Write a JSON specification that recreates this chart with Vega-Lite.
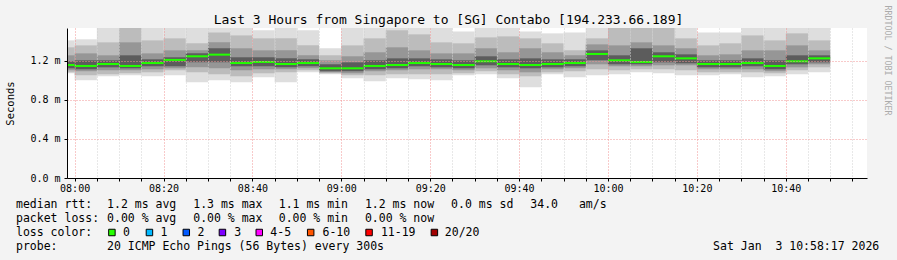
{
  "$schema": "https://vega.github.io/schema/vega-lite/v6.json",
  "width": 800,
  "height": 150,
  "autosize": {"type": "none"},
  "padding": {"left": 67, "top": 28, "right": 30, "bottom": 82},
  "background": "#f3f3f3",
  "config": {"view": {"fill": "white", "stroke": null}, "font": "DejaVu Sans Mono", "axis": {"labelOverlap": false}},
  "title": {
    "text": "Last 3 Hours from Singapore to [SG] Contabo [194.233.66.189]",
    "font": "DejaVu Sans Mono", "fontSize": 13, "fontWeight": "normal", "color": "black",
    "anchor": "middle", "dx": -18.5, "dy": 39, "offset": 4, "baseline": "bottom"
  },
  "layer": [
    {
      "data": {"values": [
        {"t":"2026-01-03T07:55:00Z","t2":"2026-01-03T08:00:00Z","mx":1.410,"u2":1.339,"u3":1.257,"u4":1.196,"med":1.158,"l4":1.124,"l3":1.104,"l2":1.083,"mn":1.073},
        {"t":"2026-01-03T08:00:00Z","t2":"2026-01-03T08:05:00Z","mx":1.421,"u2":1.359,"u3":1.277,"u4":1.206,"med":1.148,"l4":1.114,"l3":1.094,"l2":1.053,"mn":1.002},
        {"t":"2026-01-03T08:05:00Z","t2":"2026-01-03T08:10:00Z","mx":1.55,"u2":1.390,"u3":1.257,"u4":1.206,"med":1.168,"l4":1.134,"l3":1.104,"l2":1.063,"mn":1.042},
        {"t":"2026-01-03T08:10:00Z","t2":"2026-01-03T08:15:00Z","mx":1.55,"u2":1.55,"u3":1.390,"u4":1.257,"med":1.148,"l4":1.124,"l3":1.104,"l2":1.073,"mn":1.053},
        {"t":"2026-01-03T08:15:00Z","t2":"2026-01-03T08:20:00Z","mx":1.55,"u2":1.410,"u3":1.277,"u4":1.216,"med":1.178,"l4":1.145,"l3":1.114,"l2":1.083,"mn":1.042},
        {"t":"2026-01-03T08:20:00Z","t2":"2026-01-03T08:25:00Z","mx":1.55,"u2":1.431,"u3":1.308,"u4":1.237,"med":1.210,"l4":1.145,"l3":1.124,"l2":1.104,"mn":1.053},
        {"t":"2026-01-03T08:25:00Z","t2":"2026-01-03T08:30:00Z","mx":1.55,"u2":1.380,"u3":1.308,"u4":1.277,"med":1.247,"l4":1.185,"l3":1.134,"l2":1.083,"mn":0.981},
        {"t":"2026-01-03T08:30:00Z","t2":"2026-01-03T08:35:00Z","mx":1.55,"u2":1.492,"u3":1.390,"u4":1.329,"med":1.264,"l4":1.185,"l3":1.124,"l2":1.063,"mn":1.002},
        {"t":"2026-01-03T08:35:00Z","t2":"2026-01-03T08:40:00Z","mx":1.55,"u2":1.461,"u3":1.329,"u4":1.237,"med":1.178,"l4":1.145,"l3":1.104,"l2":1.042,"mn":0.981},
        {"t":"2026-01-03T08:40:00Z","t2":"2026-01-03T08:45:00Z","mx":1.513,"u2":1.431,"u3":1.308,"u4":1.237,"med":1.189,"l4":1.145,"l3":1.114,"l2":1.073,"mn":1.032},
        {"t":"2026-01-03T08:45:00Z","t2":"2026-01-03T08:50:00Z","mx":1.55,"u2":1.431,"u3":1.308,"u4":1.226,"med":1.168,"l4":1.134,"l3":1.114,"l2":1.083,"mn":0.981},
        {"t":"2026-01-03T08:50:00Z","t2":"2026-01-03T08:55:00Z","mx":1.513,"u2":1.359,"u3":1.257,"u4":1.216,"med":1.178,"l4":1.145,"l3":1.124,"l2":1.104,"mn":1.083},
        {"t":"2026-01-03T08:55:00Z","t2":"2026-01-03T09:00:00Z","mx":1.329,"u2":1.257,"u3":1.206,"u4":1.165,"med":1.124,"l4":1.094,"l3":1.083,"l2":1.073,"mn":1.063},
        {"t":"2026-01-03T09:00:00Z","t2":"2026-01-03T09:05:00Z","mx":1.55,"u2":1.359,"u3":1.247,"u4":1.185,"med":1.124,"l4":1.094,"l3":1.073,"l2":1.053,"mn":1.022},
        {"t":"2026-01-03T09:05:00Z","t2":"2026-01-03T09:10:00Z","mx":1.55,"u2":1.431,"u3":1.288,"u4":1.206,"med":1.148,"l4":1.114,"l3":1.094,"l2":1.053,"mn":0.991},
        {"t":"2026-01-03T09:10:00Z","t2":"2026-01-03T09:15:00Z","mx":1.55,"u2":1.513,"u3":1.339,"u4":1.226,"med":1.158,"l4":1.124,"l3":1.104,"l2":1.063,"mn":1.022},
        {"t":"2026-01-03T09:15:00Z","t2":"2026-01-03T09:20:00Z","mx":1.55,"u2":1.472,"u3":1.308,"u4":1.226,"med":1.178,"l4":1.145,"l3":1.114,"l2":1.063,"mn":1.012},
        {"t":"2026-01-03T09:20:00Z","t2":"2026-01-03T09:25:00Z","mx":1.55,"u2":1.390,"u3":1.277,"u4":1.216,"med":1.168,"l4":1.134,"l3":1.114,"l2":1.063,"mn":1.002},
        {"t":"2026-01-03T09:25:00Z","t2":"2026-01-03T09:30:00Z","mx":1.502,"u2":1.380,"u3":1.277,"u4":1.206,"med":1.158,"l4":1.124,"l3":1.104,"l2":1.073,"mn":1.053},
        {"t":"2026-01-03T09:30:00Z","t2":"2026-01-03T09:35:00Z","mx":1.55,"u2":1.441,"u3":1.329,"u4":1.247,"med":1.196,"l4":1.155,"l3":1.124,"l2":1.094,"mn":1.063},
        {"t":"2026-01-03T09:35:00Z","t2":"2026-01-03T09:40:00Z","mx":1.55,"u2":1.451,"u3":1.288,"u4":1.216,"med":1.168,"l4":1.134,"l3":1.104,"l2":1.063,"mn":1.022},
        {"t":"2026-01-03T09:40:00Z","t2":"2026-01-03T09:45:00Z","mx":1.502,"u2":1.431,"u3":1.329,"u4":1.226,"med":1.158,"l4":1.124,"l3":1.083,"l2":1.042,"mn":0.930},
        {"t":"2026-01-03T09:45:00Z","t2":"2026-01-03T09:50:00Z","mx":1.482,"u2":1.380,"u3":1.288,"u4":1.216,"med":1.168,"l4":1.134,"l3":1.114,"l2":1.083,"mn":1.063},
        {"t":"2026-01-03T09:50:00Z","t2":"2026-01-03T09:55:00Z","mx":1.492,"u2":1.308,"u3":1.257,"u4":1.216,"med":1.178,"l4":1.145,"l3":1.124,"l2":1.094,"mn":1.032},
        {"t":"2026-01-03T09:55:00Z","t2":"2026-01-03T10:00:00Z","mx":1.55,"u2":1.431,"u3":1.369,"u4":1.308,"med":1.271,"l4":1.206,"l3":1.165,"l2":1.114,"mn":1.053},
        {"t":"2026-01-03T10:00:00Z","t2":"2026-01-03T10:05:00Z","mx":1.55,"u2":1.55,"u3":1.359,"u4":1.257,"med":1.206,"l4":1.165,"l3":1.145,"l2":1.104,"mn":1.063},
        {"t":"2026-01-03T10:05:00Z","t2":"2026-01-03T10:10:00Z","mx":1.55,"u2":1.55,"u3":1.390,"u4":1.329,"med":1.189,"l4":1.165,"l3":1.145,"l2":1.114,"mn":1.083},
        {"t":"2026-01-03T10:10:00Z","t2":"2026-01-03T10:15:00Z","mx":1.55,"u2":1.55,"u3":1.359,"u4":1.288,"med":1.247,"l4":1.185,"l3":1.155,"l2":1.114,"mn":1.073},
        {"t":"2026-01-03T10:15:00Z","t2":"2026-01-03T10:20:00Z","mx":1.55,"u2":1.431,"u3":1.329,"u4":1.267,"med":1.226,"l4":1.175,"l3":1.155,"l2":1.104,"mn":1.053},
        {"t":"2026-01-03T10:20:00Z","t2":"2026-01-03T10:25:00Z","mx":1.492,"u2":1.359,"u3":1.257,"u4":1.206,"med":1.168,"l4":1.134,"l3":1.114,"l2":1.083,"mn":1.053},
        {"t":"2026-01-03T10:25:00Z","t2":"2026-01-03T10:30:00Z","mx":1.492,"u2":1.380,"u3":1.267,"u4":1.206,"med":1.168,"l4":1.134,"l3":1.114,"l2":1.083,"mn":1.063},
        {"t":"2026-01-03T10:30:00Z","t2":"2026-01-03T10:35:00Z","mx":1.55,"u2":1.461,"u3":1.308,"u4":1.226,"med":1.178,"l4":1.145,"l3":1.114,"l2":1.083,"mn":1.032},
        {"t":"2026-01-03T10:35:00Z","t2":"2026-01-03T10:40:00Z","mx":1.55,"u2":1.410,"u3":1.308,"u4":1.206,"med":1.148,"l4":1.114,"l3":1.094,"l2":1.073,"mn":1.042},
        {"t":"2026-01-03T10:40:00Z","t2":"2026-01-03T10:45:00Z","mx":1.55,"u2":1.482,"u3":1.359,"u4":1.257,"med":1.196,"l4":1.165,"l3":1.134,"l2":1.104,"mn":1.063},
        {"t":"2026-01-03T10:45:00Z","t2":"2026-01-03T10:50:00Z","mx":1.55,"u2":1.410,"u3":1.308,"u4":1.257,"med":1.226,"l4":1.185,"l3":1.165,"l2":1.134,"mn":1.083}
      ]},
      "encoding": {
        "x": {
          "field": "t", "type": "temporal",
          "scale": {"type": "utc", "domain": [1767427097000, 1767437897000]},
          "axis": {
            "title": null, "zindex": 1,
            "values": [1767427200000,1767427500000,1767427800000,1767428100000,1767428400000,1767428700000,1767429000000,1767429300000,1767429600000,1767429900000,1767430200000,1767430500000,1767430800000,1767431100000,1767431400000,1767431700000,1767432000000,1767432300000,1767432600000,1767432900000,1767433200000,1767433500000,1767433800000,1767434100000,1767434400000,1767434700000,1767435000000,1767435300000,1767435600000,1767435900000,1767436200000,1767436500000,1767436800000,1767437100000,1767437400000,1767437700000],
            "labelExpr": "utcminutes(datum.value) % 20 === 0 ? utcFormat(datum.value, '%H:%M') : ''",
            "labelOverlap": false, "labelFlush": false, "labelBound": false,
            "labelFont": "DejaVu Sans Mono", "labelFontSize": 10, "labelColor": "black", "labelPadding": 2,
            "domainColor": "black", "domainWidth": 1,
            "tickColor": "black", "tickSize": 3,
            "grid": true, "gridDash": [1, 2], "gridWidth": 1,
            "gridColor": {"condition": {"test": "utcminutes(datum.value) % 20 === 0", "value": "#f09494"}, "value": "#d0d0d0"}
          }
        },
        "x2": {"field": "t2"}
      },
      "layer": [
        {
          "mark": {"type": "rect", "color": "#dedede", "clip": true},
          "encoding": {
            "y": {
              "field": "mn", "type": "quantitative",
              "scale": {"domain": [0, 1.537], "nice": false, "zero": false},
              "axis": {
                "title": "Seconds", "zindex": 1,
                "values": [0, 0.2, 0.4, 0.6, 0.8, 1.0, 1.2, 1.4],
                "labelExpr": "format(datum.value, '.1f') + ' m'",
                "labelFont": "DejaVu Sans Mono", "labelFontSize": 10, "labelColor": "black", "labelPadding": 4,
                "labelOverlap": false, "labelFlush": false, "labelBound": false,
                "domainColor": "black", "domainWidth": 1,
                "tickColor": "black", "tickSize": 3,
                "grid": true, "gridDash": [1, 2], "gridWidth": 1, "gridColor": "#f09494",
                "titleFont": "DejaVu Sans Mono", "titleFontSize": 10.5, "titleFontWeight": "normal", "titleColor": "black",
                "titleX": -57, "titleY": 75, "titleAngle": -90, "titleAlign": "center", "titleBaseline": "middle"
              }
            },
            "y2": {"field": "mx"}
          }
        },
        {
          "mark": {"type": "rect", "color": "#bcbcbc", "clip": true},
          "encoding": {"y": {"field": "l2", "type": "quantitative"}, "y2": {"field": "u2"}}
        },
        {
          "mark": {"type": "rect", "color": "#969696", "clip": true},
          "encoding": {"y": {"field": "l3", "type": "quantitative"}, "y2": {"field": "u3"}}
        },
        {
          "mark": {"type": "rect", "color": "#5c5c5c", "clip": true},
          "encoding": {"y": {"field": "l4", "type": "quantitative"}, "y2": {"field": "u4"}}
        },
        {
          "mark": {"type": "rule", "color": "#22ff00", "strokeWidth": 2, "clip": true},
          "encoding": {"y": {"field": "med", "type": "quantitative"}}
        }
      ]
    },
    {
      "encoding": {
        "x": {"field": "col", "type": "quantitative", "axis": null,
              "scale": {"domain": [7.338, 122.446], "nice": false, "zero": false}},
        "y": {"field": "row", "type": "quantitative",
              "scale": {"domain": [-12.857, -2.143], "reverse": true, "nice": false, "zero": false},
              "axis": {
                "orient": "right", "domain": false, "ticks": false, "labels": false, "grid": false,
                "title": "RRDTOOL / TOBI OETIKER", "titleAngle": 90, "titleX": 19, "titleY": 32,
                "titleAlign": "center", "titleBaseline": "middle",
                "titleFont": "DejaVu Sans Mono", "titleFontSize": 8.3, "titleFontWeight": "normal", "titleColor": "#ababab"
              }}
      },
      "layer": [
        {
          "data": {"values": [
            {"row": 0, "col": 0, "text": "median rtt:"},
            {"row": 0, "col": 13.1, "text": "1.2 ms avg"},
            {"row": 0, "col": 25.5, "text": "1.3 ms max"},
            {"row": 0, "col": 37.8, "text": "1.1 ms min"},
            {"row": 0, "col": 50.2, "text": "1.2 ms now"},
            {"row": 0, "col": 62.6, "text": "0.0 ms sd"},
            {"row": 0, "col": 74.0, "text": "34.0"},
            {"row": 0, "col": 81.0, "text": "am/s"},
            {"row": 1, "col": 0, "text": "packet loss:"},
            {"row": 1, "col": 13.1, "text": "0.00 % avg"},
            {"row": 1, "col": 25.5, "text": "0.00 % max"},
            {"row": 1, "col": 37.8, "text": "0.00 % min"},
            {"row": 1, "col": 50.2, "text": "0.00 % now"},
            {"row": 2, "col": 0, "text": "loss color:"},
            {"row": 2, "col": 15.4, "text": "0"},
            {"row": 2, "col": 20.8, "text": "1"},
            {"row": 2, "col": 26.1, "text": "2"},
            {"row": 2, "col": 31.4, "text": "3"},
            {"row": 2, "col": 36.6, "text": "4-5"},
            {"row": 2, "col": 44.1, "text": "6-10"},
            {"row": 2, "col": 52.5, "text": "11-19"},
            {"row": 2, "col": 61.7, "text": "20/20"},
            {"row": 3, "col": 0, "text": "probe:"},
            {"row": 3, "col": 13.1, "text": "20 ICMP Echo Pings (56 Bytes) every 300s"},
            {"row": 3, "col": 100.3, "text": "Sat Jan \u00a03 10:58:17 2026"}
          ]},
          "mark": {"type": "text", "align": "left", "baseline": "alphabetic", "font": "DejaVu Sans Mono", "fontSize": 11.5, "color": "black"},
          "encoding": {"text": {"field": "text"}}
        },
        {
          "data": {"values": [
            {"row": 2, "col": 13.8, "loss": "0"},
            {"row": 2, "col": 19.2, "loss": "1"},
            {"row": 2, "col": 24.5, "loss": "2"},
            {"row": 2, "col": 29.7, "loss": "3"},
            {"row": 2, "col": 35.0, "loss": "4-5"},
            {"row": 2, "col": 42.4, "loss": "6-10"},
            {"row": 2, "col": 50.8, "loss": "11-19"},
            {"row": 2, "col": 60.2, "loss": "20/20"}
          ]},
          "mark": {"type": "point", "shape": "square", "filled": true, "size": 42, "stroke": "black", "strokeWidth": 1, "opacity": 1, "yOffset": -3.5},
          "encoding": {
            "fill": {"field": "loss", "type": "nominal", "legend": null,
                     "scale": {"domain": ["0", "1", "2", "3", "4-5", "6-10", "11-19", "20/20"],
                               "range": ["#26ff00", "#00b8ff", "#0059ff", "#7e00ff", "#ff00ff", "#ff5500", "#ff0000", "#a10000"]}}
          }
        }
      ]
    }
  ],
  "resolve": {"scale": {"x": "independent", "y": "independent"}}
}
